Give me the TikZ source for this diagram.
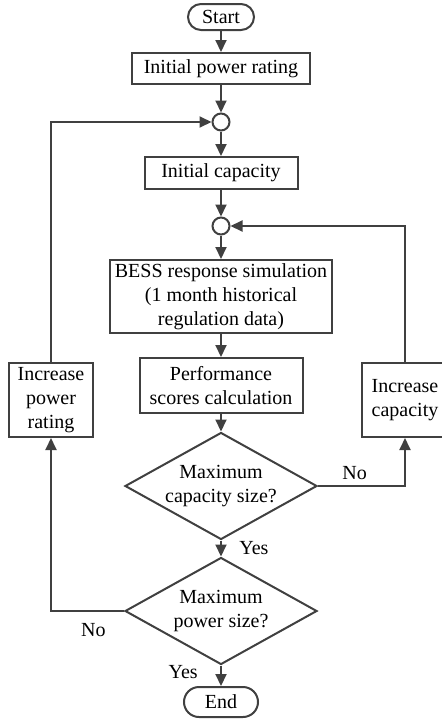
\documentclass[tikz,border=0pt]{standalone}
\usepackage{fontspec}
\setmainfont{Liberation Serif}
\usetikzlibrary{arrows.meta, shapes.geometric, shapes.misc}
\definecolor{lineGray}{RGB}{64,64,64}

\begin{document}
\begin{tikzpicture}[
  x=1pt, y=-1pt,
  every node/.style={font=\fontsize{20}{24}\selectfont, text=black},
  box/.style={draw=lineGray, line width=2pt, fill=white, inner sep=0pt, align=center},
  term/.style={box, rounded rectangle},
  junction/.style={draw=lineGray, line width=2pt, fill=white, circle, inner sep=0pt, minimum size=17pt},
  decide/.style={box, diamond, shape aspect=1.8, minimum width=192pt, minimum height=107pt},
  flow/.style={draw=lineGray, line width=2pt, -{Triangle[length=12pt, width=11pt]}},
]
  \useasboundingbox (0,0) rectangle (442,721);
  \clip (0,0) rectangle (442,721);

  % main column
  \node[term, minimum width=66pt, minimum height=26pt] (start) at (221,17) {Start};
  \node[box, minimum width=178pt, minimum height=31pt] (rating) at (221,68.5) {Initial power rating};
  \node[junction] (join1) at (221,122) {};
  \node[box, minimum width=153pt, minimum height=32pt] (cap) at (221,173) {Initial capacity};
  \node[junction] (join2) at (221,226) {};
  \node[box, minimum width=222pt, minimum height=73pt] (sim) at (221,296.5)
    {BESS response simulation\\(1 month historical\\regulation data)};
  \node[box, minimum width=163pt, minimum height=55pt] (perf) at (221,385.5)
    {Performance\\scores calculation};
  \node[decide] (capq) at (221,486) {Maximum\\capacity size?};
  \node[decide] (powq) at (221,611) {Maximum\\power size?};
  \node[term, minimum width=74pt, minimum height=30pt] (stop) at (221,702) {End};

  % side boxes
  \node[box, minimum width=84pt, minimum height=74pt] (incpow) at (51,400) {Increase\\power\\rating};
  \node[box, minimum width=86pt, minimum height=74pt] (inccap) at (405,400) {Increase\\capacity};

  \draw[flow] (start) -- (rating);
  \draw[flow] (rating) -- (join1);
  \draw[flow] (join1) -- (cap);
  \draw[flow] (cap) -- (join2);
  \draw[flow] (join2) -- (sim);
  \draw[flow] (sim) -- (perf);
  \draw[flow] (perf) -- (capq);
  \draw[flow] (capq) -- node[anchor=west, xshift=14pt] {Yes} (powq);
  \draw[flow] (powq) -- node[anchor=east, xshift=-19pt, yshift=4pt] {Yes} (stop);

  % loops
  \draw[flow] (capq.east) -| node[pos=0.21, above=2pt] {No} (inccap.south);
  \draw[flow] (inccap.north) |- (join2.east);
  \draw[flow] (powq.west) -| node[pos=0.21, below=8pt] {No} (incpow.south);
  \draw[flow] (incpow.north) |- (join1.west);
\end{tikzpicture}
\end{document}
